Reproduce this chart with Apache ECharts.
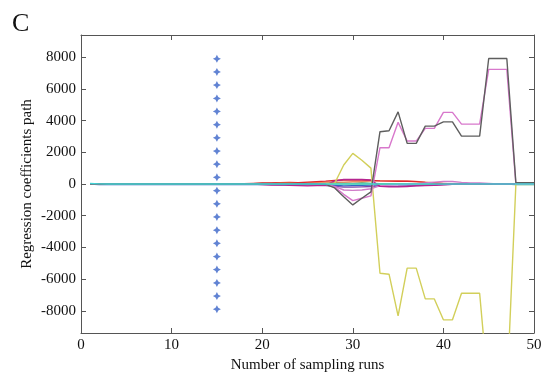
<!DOCTYPE html>
<html><head><meta charset="utf-8">
<script src="https://cdn.jsdelivr.net/npm/echarts@6/dist/echarts.min.js"></script>
<style>html,body{margin:0;padding:0;background:#fff}#c{width:550px;height:383px}</style>
</head><body><div id="c"></div>
<script>
// sampling runs (x)
const runs = [1,2,3,4,5,6,7,8,9,10,11,12,13,14,15,16,17,18,19,20,21,22,23,24,25,26,27,28,29,30,31,32,33,34,35,36,37,38,39,40,41,42,43,44,45,46,47,48,49,50];
const xTicks = [0,10,20,30,40,50];
const yTicks = [-8000,-6000,-4000,-2000,0,2000,4000,6000,8000];

// selected run marker (stars)
const starX = 15;
const starY = [7900,7070,6240,5400,4580,3740,2910,2080,1250,420,-420,-1250,-2080,-2910,-3740,-4580,-5400,-6240,-7070,-7900];

// coefficient paths (values per run 1..50)
const coefGray   = [0,0,0,0,0,0,0,0,0,0, 0,0,0,0,0,0,0,0,0,0, 0,0,0,0,0,0,-20,-250,-800,-1320, -900,-500,3300,3360,4550,2560,2560,3650,3650,3920, 3920,3020,3020,3020,7920,7920,7920,80,80,80];
const coefPink   = [0,0,0,0,0,0,0,0,0,0, 0,0,0,0,0,0,0,0,0,0, 0,0,0,0,0,0,-20,-200,-650,-1050, -900,-750,2290,2290,3890,2710,2710,3510,3510,4520, 4520,3780,3780,3780,7230,7230,7230,0,0,0];
const coefYellow = [0,0,0,0,0,0,0,0,0,0, 0,0,0,0,0,0,0,0,0,0, 0,30,40,20,0,10,20,50,1200,1930, 1500,1000,-5630,-5690,-8320,-5310,-5310,-7250,-7250,-8570, -8570,-6890,-6890,-6890,-13300,-13300,-13300,0,0,0];
const coefRed    = [0,0,0,0,0,0,0,0,0,0, 0,0,0,0,0,0,0,20,40,60, 60,80,100,80,120,150,180,220,250,250, 250,230,200,180,170,170,150,100,60,20, 0,0,0,0,0,0,0,0,0,0];
const coefOrange = [0,0,0,0,0,0,0,0,0,0, 0,0,0,0,0,0,0,0,0,0, 30,60,80,80,60,100,120,120,120,140, 160,180,200,200,190,180,160,120,80,40, 0,0,0,0,0,0,0,0,0,0];
const coefMagenta= [0,0,0,0,0,0,0,0,0,0, 0,0,0,0,0,0,0,0,0,-30, -60,-50,-80,-100,-120,-100,-80,200,280,280, 280,250,-150,-180,-180,-160,-120,-100,-80,-50, -20,0,0,0,0,0,0,0,0,0];
const coefLilac  = [0,0,0,0,0,0,0,0,0,0, 0,0,0,0,0,0,0,0,0,0, 0,0,-20,-40,-60,-40,-60,-150,-380,-400, -380,-300,-100,-60,-40,-20,0,60,120,160, 160,100,60,60,40,0,0,0,0,0];
const coefPurple = [0,0,0,0,0,0,0,0,0,0, 0,0,0,0,0,0,0,0,0,0, 0,-20,-40,-30,-60,-80,-100,-150,-200,-200, -180,-160,-150,-150,-140,-120,-100,-80,-60,-40, -20,-10,0,0,0,0,0,0,0,0];
const coefBlue   = [0,-40,-40,-40,-40,-40,-40,-40,-40,-40, -40,-40,-40,-40,-40,-40,-40,-40,-40,-40, -40,-50,-40,-60,-80,-60,-50,-80,-120,-100, -80,-60,-60,-40,-40,-30,-20,-20,0,0, 0,0,0,0,0,0,0,0,0,0];
const coefGreen  = [20,20,10,0,0,0,0,0,0,0, 0,0,0,0,0,0,0,0,20,40, 30,50,60,40,30,60,50,80,60,40, 60,40,20,20,0,0,0,0,0,0, 0,0,0,0,0,0,0,-40,-40,-40];
const coefLime   = [0,0,0,0,0,0,0,0,0,0, 0,0,0,0,0,0,0,0,0,0, 0,20,40,60,40,60,40,20,0,0, 0,0,0,0,0,0,0,0,0,0, 0,0,0,0,0,0,0,0,0,0];
const coefCyan   = [30,10,0,0,0,0,0,0,0,0, 0,0,0,0,0,0,0,0,0,0, 0,0,0,0,0,0,0,0,0,0, 0,0,0,0,0,0,0,0,0,0, 0,0,0,0,0,0,0,0,0,0];

const paths = [
  {v: coefBlue, c: '#3563c4'},
  {v: coefGreen, c: '#2f9a5a'},
  {v: coefLime, c: '#b8cc55'},
  {v: coefPurple, c: '#7f48a8'},
  {v: coefOrange, c: '#f08a62'},
  {v: coefRed, c: '#e0262e'},
  {v: coefLilac, c: '#d07cc8'},
  {v: coefMagenta, c: '#b52590'},
  {v: coefYellow, c: '#d2cf5a'},
  {v: coefPink, c: '#d878cc'},
  {v: coefGray, c: '#5e5e5e'},
  {v: coefCyan, c: '#3fd3d6'}
];

const font = 'Liberation Serif, Times New Roman, serif';
const axisCol = '#555';
const chart = echarts.init(document.getElementById('c'), null, {renderer: 'canvas'});

const series = paths.map(p => ({
  type: 'line', xAxisIndex: 0, yAxisIndex: 0,
  data: runs.map((r, i) => [r, p.v[i]]),
  showSymbol: false, symbol: 'none',
  lineStyle: {color: p.c, width: 1.4},
  clip: true, animation: false
}));
series.push({
  type: 'scatter', xAxisIndex: 0, yAxisIndex: 0,
  data: starY.map(y => [starX, y]),
  symbol: 'path://M0,-5L1.7,-1.7L5,0L1.7,1.7L0,5L-1.7,1.7L-5,0L-1.7,-1.7Z',
  symbolSize: 8,
  itemStyle: {color: '#3a64c8'},
  animation: false, z: 5
});

const plain = v => String(v);

chart.setOption({
  animation: false,
  backgroundColor: '#fff',
  grid: {left: 81, right: 16, top: 35, bottom: 50},
  graphic: [{type: 'text', left: 12, top: 11, style: {text: 'C', font: '26px ' + font, fill: '#111'}}],
  xAxis: [{
    type: 'value', min: 0, max: 50, interval: 10, position: 'bottom',
    name: 'Number of sampling runs', nameLocation: 'middle', nameGap: 22,
    nameTextStyle: {fontFamily: font, fontSize: 15, color: '#111'},
    axisLine: {onZero: false, lineStyle: {color: axisCol, width: 1}},
    axisTick: {inside: true, length: 5, lineStyle: {color: axisCol}},
    axisLabel: {fontFamily: font, fontSize: 15, color: '#111', margin: 5, formatter: plain},
    splitLine: {show: false}
  }, {
    type: 'value', min: 0, max: 50, interval: 10, position: 'top',
    axisLine: {onZero: false, lineStyle: {color: axisCol, width: 1}},
    axisTick: {inside: true, length: 5, lineStyle: {color: axisCol}},
    axisLabel: {show: false}, splitLine: {show: false}
  }],
  yAxis: [{
    type: 'value', min: -9400, max: 9400, position: 'left',
    name: 'Regression coefficients path', nameLocation: 'middle', nameGap: 46, nameMoveOverlap: false,
    nameTextStyle: {fontFamily: font, fontSize: 15, color: '#111'},
    axisLine: {show: true, onZero: false, lineStyle: {color: axisCol, width: 1}},
    axisTick: {show: true, inside: true, length: 5, lineStyle: {color: axisCol}, customValues: yTicks},
    axisLabel: {fontFamily: font, fontSize: 15, color: '#111', margin: 5, customValues: yTicks, formatter: plain},
    splitLine: {show: false}
  }, {
    type: 'value', min: -9400, max: 9400, position: 'right',
    axisLine: {show: true, onZero: false, lineStyle: {color: axisCol, width: 1}},
    axisTick: {show: true, inside: true, length: 5, lineStyle: {color: axisCol}, customValues: yTicks},
    axisLabel: {show: false}, splitLine: {show: false}
  }],
  series: series
});
</script></body></html>
